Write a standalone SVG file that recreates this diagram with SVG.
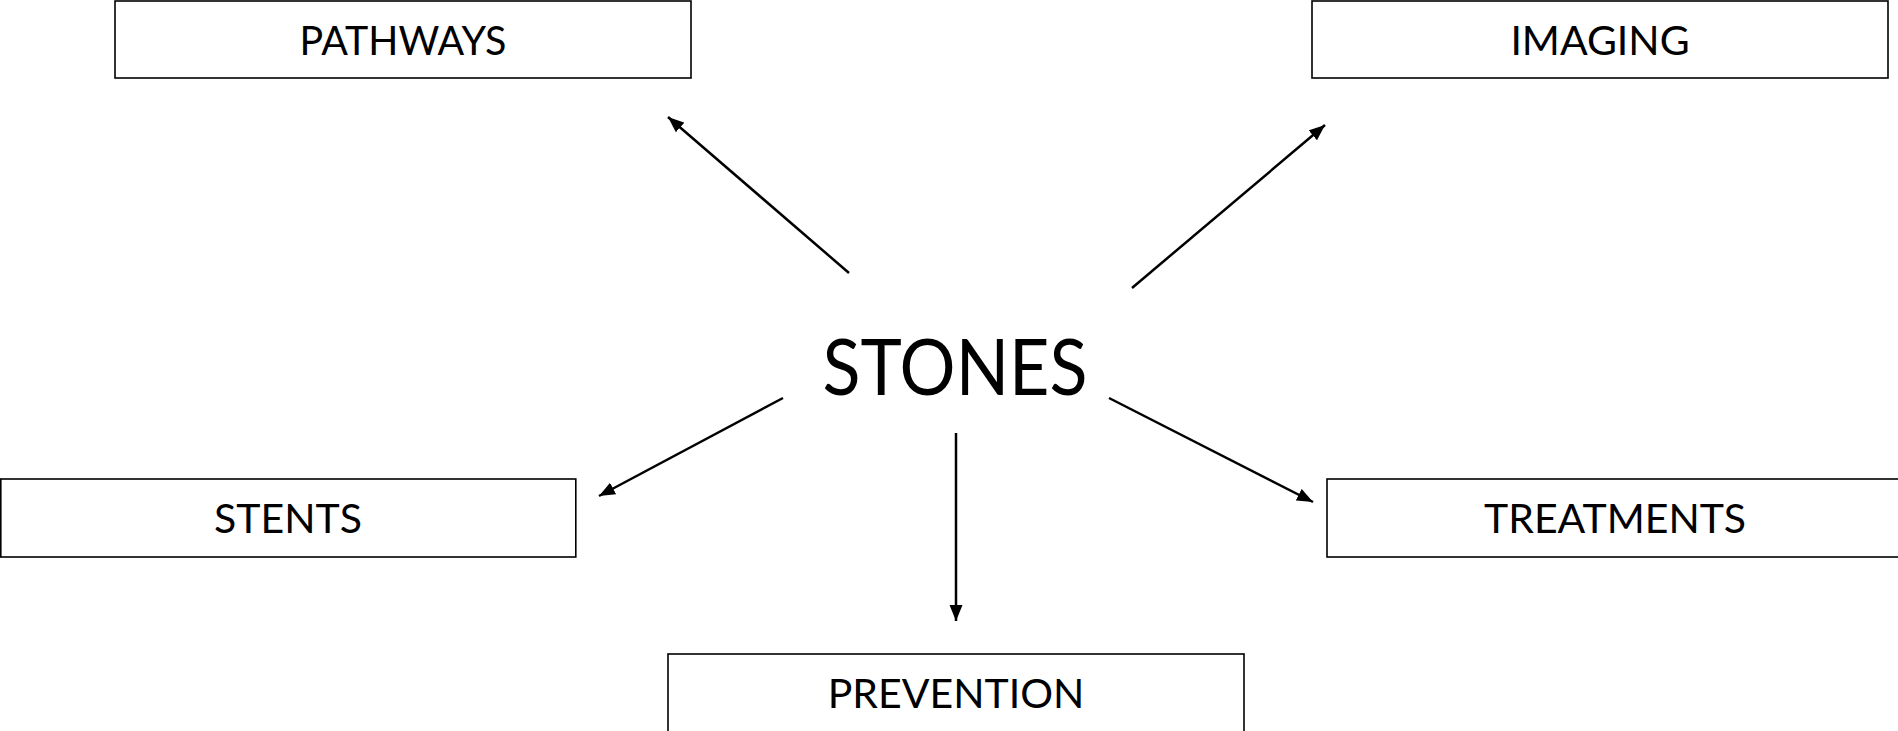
<svg xmlns="http://www.w3.org/2000/svg" width="1898" height="731" viewBox="0 0 1898 731">
<style>
.box{fill:#fff;stroke:#000;stroke-width:1.6}
.lbl{font-family:Lato,"Liberation Sans",sans-serif;font-size:41px;fill:#000;text-anchor:middle}
.hub{font-family:Lato,"Liberation Sans",sans-serif;font-size:78px;fill:#000;text-anchor:middle}
.con{stroke:#000;stroke-width:2.5;fill:none;marker-end:url(#ah)}
</style>
<defs>
<marker id="ah" markerUnits="userSpaceOnUse" markerWidth="18" markerHeight="14" refX="16" refY="7" orient="auto">
<path d="M0,0.5 L16,7 L0,13.5 z" fill="#000"/>
</marker>
</defs>
<rect width="1898" height="731" fill="#fff"/>
<g id="connectors">
<line class="con" x1="849" y1="273" x2="668" y2="117"/>
<line class="con" x1="1132" y1="288" x2="1325" y2="125"/>
<line class="con" x1="783" y1="398" x2="599" y2="496"/>
<line class="con" x1="956" y1="433" x2="956" y2="621"/>
<line class="con" x1="1109" y1="398" x2="1313" y2="502"/>
</g>
<g id="stones"><text class="hub" x="955" y="395" textLength="265" lengthAdjust="spacingAndGlyphs">STONES</text></g>
<g id="pathways"><rect class="box" x="115" y="1" width="576" height="77"/><text class="lbl" x="403" y="55" textLength="207" lengthAdjust="spacingAndGlyphs">PATHWAYS</text></g>
<g id="imaging"><rect class="box" x="1312" y="1" width="576" height="77"/><text class="lbl" x="1600" y="55">IMAGING</text></g>
<g id="stents"><rect class="box" x="0.8" y="479" width="575" height="78"/><text class="lbl" x="288" y="533">STENTS</text></g>
<g id="treatments"><rect class="box" x="1327" y="479" width="580" height="78"/><text class="lbl" x="1615" y="533">TREATMENTS</text></g>
<g id="prevention"><rect class="box" x="668" y="654" width="576" height="80"/><text class="lbl" x="956" y="708">PREVENTION</text></g>
</svg>
